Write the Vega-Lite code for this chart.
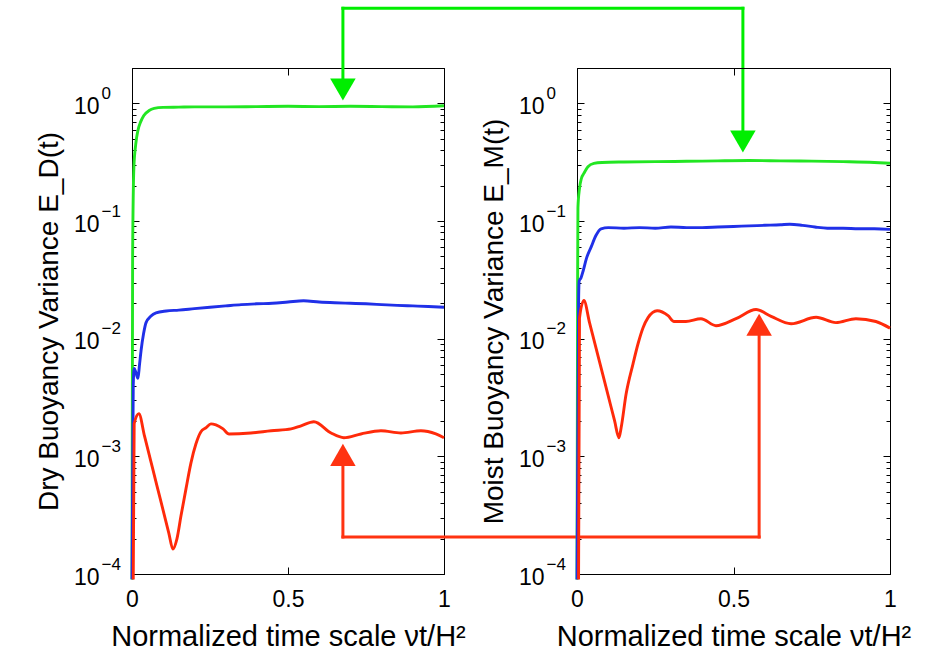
{
  "$schema": "https://vega.github.io/schema/vega-lite/v6.json",
  "padding": {"left": 34, "top": 5, "right": 5, "bottom": 3},
  "background": "white",
  "config": {
    "view": {"stroke": "#000000", "strokeWidth": 1},
    "font": "Liberation Sans",
    "axis": {
      "grid": false, "domainColor": "#000000", "domainWidth": 1, "tickColor": "#000000", "tickWidth": 1,
      "labelColor": "#000000", "titleColor": "#000000", "labelFont": "Liberation Sans", "titleFont": "Liberation Sans",
      "labelFontSize": 23, "titleFontSize": 28, "titleFontWeight": "normal", "labelOverlap": false, "labelFlush": false
    },
    "line": {"interpolate": "monotone", "strokeWidth": 2.9, "clip": true}
  },
  "datasets": {
    "curves": [
      {"panel": "dry", "run": "green", "t": 0, "v": 0.00009}, {"panel": "dry", "run": "green", "t": 0.002, "v": 0.05},
      {"panel": "dry", "run": "green", "t": 0.006, "v": 0.285}, {"panel": "dry", "run": "green", "t": 0.012, "v": 0.45},
      {"panel": "dry", "run": "green", "t": 0.019, "v": 0.59}, {"panel": "dry", "run": "green", "t": 0.028, "v": 0.7},
      {"panel": "dry", "run": "green", "t": 0.038, "v": 0.79}, {"panel": "dry", "run": "green", "t": 0.055, "v": 0.87},
      {"panel": "dry", "run": "green", "t": 0.071, "v": 0.906}, {"panel": "dry", "run": "green", "t": 0.1, "v": 0.925},
      {"panel": "dry", "run": "green", "t": 0.15, "v": 0.93}, {"panel": "dry", "run": "green", "t": 0.2, "v": 0.935},
      {"panel": "dry", "run": "green", "t": 0.3, "v": 0.935}, {"panel": "dry", "run": "green", "t": 0.4, "v": 0.94},
      {"panel": "dry", "run": "green", "t": 0.5, "v": 0.945}, {"panel": "dry", "run": "green", "t": 0.6, "v": 0.94},
      {"panel": "dry", "run": "green", "t": 0.7, "v": 0.945}, {"panel": "dry", "run": "green", "t": 0.8, "v": 0.94},
      {"panel": "dry", "run": "green", "t": 0.9, "v": 0.935}, {"panel": "dry", "run": "green", "t": 1.0, "v": 0.955},

      {"panel": "dry", "run": "blue", "t": 0, "v": 0.00009}, {"panel": "dry", "run": "blue", "t": 0.004, "v": 0.004},
      {"panel": "dry", "run": "blue", "t": 0.007, "v": 0.0056}, {"panel": "dry", "run": "blue", "t": 0.012, "v": 0.0052},
      {"panel": "dry", "run": "blue", "t": 0.019, "v": 0.0046}, {"panel": "dry", "run": "blue", "t": 0.024, "v": 0.006},
      {"panel": "dry", "run": "blue", "t": 0.029, "v": 0.0079}, {"panel": "dry", "run": "blue", "t": 0.037, "v": 0.011},
      {"panel": "dry", "run": "blue", "t": 0.045, "v": 0.0137}, {"panel": "dry", "run": "blue", "t": 0.06, "v": 0.0155},
      {"panel": "dry", "run": "blue", "t": 0.077, "v": 0.0166}, {"panel": "dry", "run": "blue", "t": 0.11, "v": 0.0172},
      {"panel": "dry", "run": "blue", "t": 0.15, "v": 0.0175}, {"panel": "dry", "run": "blue", "t": 0.2, "v": 0.018},
      {"panel": "dry", "run": "blue", "t": 0.25, "v": 0.0185}, {"panel": "dry", "run": "blue", "t": 0.3, "v": 0.019},
      {"panel": "dry", "run": "blue", "t": 0.35, "v": 0.0195}, {"panel": "dry", "run": "blue", "t": 0.4, "v": 0.0198},
      {"panel": "dry", "run": "blue", "t": 0.45, "v": 0.02}, {"panel": "dry", "run": "blue", "t": 0.5, "v": 0.0205},
      {"panel": "dry", "run": "blue", "t": 0.55, "v": 0.021}, {"panel": "dry", "run": "blue", "t": 0.6, "v": 0.0205},
      {"panel": "dry", "run": "blue", "t": 0.65, "v": 0.0202}, {"panel": "dry", "run": "blue", "t": 0.7, "v": 0.02},
      {"panel": "dry", "run": "blue", "t": 0.75, "v": 0.0198}, {"panel": "dry", "run": "blue", "t": 0.8, "v": 0.0195},
      {"panel": "dry", "run": "blue", "t": 0.85, "v": 0.0192}, {"panel": "dry", "run": "blue", "t": 0.9, "v": 0.019},
      {"panel": "dry", "run": "blue", "t": 0.95, "v": 0.0188}, {"panel": "dry", "run": "blue", "t": 1.0, "v": 0.0185},

      {"panel": "dry", "run": "red", "t": 0.004, "v": 0.00009}, {"panel": "dry", "run": "red", "t": 0.007, "v": 0.0019},
      {"panel": "dry", "run": "red", "t": 0.022, "v": 0.0023}, {"panel": "dry", "run": "red", "t": 0.04, "v": 0.00149},
      {"panel": "dry", "run": "red", "t": 0.06, "v": 0.000915}, {"panel": "dry", "run": "red", "t": 0.08, "v": 0.000562},
      {"panel": "dry", "run": "red", "t": 0.1, "v": 0.000346}, {"panel": "dry", "run": "red", "t": 0.118, "v": 0.000223},
      {"panel": "dry", "run": "red", "t": 0.131, "v": 0.000163}, {"panel": "dry", "run": "red", "t": 0.144, "v": 0.000199},
      {"panel": "dry", "run": "red", "t": 0.157, "v": 0.000312}, {"panel": "dry", "run": "red", "t": 0.173, "v": 0.000529},
      {"panel": "dry", "run": "red", "t": 0.189, "v": 0.000881}, {"panel": "dry", "run": "red", "t": 0.205, "v": 0.00128},
      {"panel": "dry", "run": "red", "t": 0.221, "v": 0.00162}, {"panel": "dry", "run": "red", "t": 0.237, "v": 0.00175},
      {"panel": "dry", "run": "red", "t": 0.253, "v": 0.00189}, {"panel": "dry", "run": "red", "t": 0.269, "v": 0.00185},
      {"panel": "dry", "run": "red", "t": 0.292, "v": 0.00171}, {"panel": "dry", "run": "red", "t": 0.311, "v": 0.00155},
      {"panel": "dry", "run": "red", "t": 0.381, "v": 0.00158}, {"panel": "dry", "run": "red", "t": 0.446, "v": 0.00165},
      {"panel": "dry", "run": "red", "t": 0.51, "v": 0.00171}, {"panel": "dry", "run": "red", "t": 0.542, "v": 0.00182},
      {"panel": "dry", "run": "red", "t": 0.583, "v": 0.00197}, {"panel": "dry", "run": "red", "t": 0.638, "v": 0.00158},
      {"panel": "dry", "run": "red", "t": 0.679, "v": 0.00144}, {"panel": "dry", "run": "red", "t": 0.734, "v": 0.00155},
      {"panel": "dry", "run": "red", "t": 0.798, "v": 0.00165}, {"panel": "dry", "run": "red", "t": 0.862, "v": 0.00158},
      {"panel": "dry", "run": "red", "t": 0.926, "v": 0.00165}, {"panel": "dry", "run": "red", "t": 0.974, "v": 0.00155},
      {"panel": "dry", "run": "red", "t": 1.0, "v": 0.00144},

      {"panel": "moist", "run": "green", "t": 0, "v": 0.00009}, {"panel": "moist", "run": "green", "t": 0.002, "v": 0.03},
      {"panel": "moist", "run": "green", "t": 0.003, "v": 0.13}, {"panel": "moist", "run": "green", "t": 0.008, "v": 0.19},
      {"panel": "moist", "run": "green", "t": 0.014, "v": 0.23}, {"panel": "moist", "run": "green", "t": 0.022, "v": 0.254},
      {"panel": "moist", "run": "green", "t": 0.035, "v": 0.29}, {"panel": "moist", "run": "green", "t": 0.054, "v": 0.309},
      {"panel": "moist", "run": "green", "t": 0.08, "v": 0.315}, {"panel": "moist", "run": "green", "t": 0.15, "v": 0.318},
      {"panel": "moist", "run": "green", "t": 0.25, "v": 0.32}, {"panel": "moist", "run": "green", "t": 0.35, "v": 0.322},
      {"panel": "moist", "run": "green", "t": 0.45, "v": 0.325}, {"panel": "moist", "run": "green", "t": 0.55, "v": 0.327},
      {"panel": "moist", "run": "green", "t": 0.65, "v": 0.325}, {"panel": "moist", "run": "green", "t": 0.75, "v": 0.323},
      {"panel": "moist", "run": "green", "t": 0.85, "v": 0.32}, {"panel": "moist", "run": "green", "t": 0.95, "v": 0.315},
      {"panel": "moist", "run": "green", "t": 1.0, "v": 0.31},

      {"panel": "moist", "run": "blue", "t": 0, "v": 0.00009}, {"panel": "moist", "run": "blue", "t": 0.005, "v": 0.02},
      {"panel": "moist", "run": "blue", "t": 0.007, "v": 0.031}, {"panel": "moist", "run": "blue", "t": 0.013, "v": 0.033},
      {"panel": "moist", "run": "blue", "t": 0.02, "v": 0.038}, {"panel": "moist", "run": "blue", "t": 0.03, "v": 0.048},
      {"panel": "moist", "run": "blue", "t": 0.045, "v": 0.06}, {"panel": "moist", "run": "blue", "t": 0.06, "v": 0.075},
      {"panel": "moist", "run": "blue", "t": 0.077, "v": 0.086}, {"panel": "moist", "run": "blue", "t": 0.1, "v": 0.088},
      {"panel": "moist", "run": "blue", "t": 0.15, "v": 0.087}, {"panel": "moist", "run": "blue", "t": 0.2, "v": 0.088},
      {"panel": "moist", "run": "blue", "t": 0.25, "v": 0.087}, {"panel": "moist", "run": "blue", "t": 0.3, "v": 0.089},
      {"panel": "moist", "run": "blue", "t": 0.35, "v": 0.088}, {"panel": "moist", "run": "blue", "t": 0.4, "v": 0.088},
      {"panel": "moist", "run": "blue", "t": 0.45, "v": 0.089}, {"panel": "moist", "run": "blue", "t": 0.5, "v": 0.09},
      {"panel": "moist", "run": "blue", "t": 0.55, "v": 0.091}, {"panel": "moist", "run": "blue", "t": 0.6, "v": 0.092},
      {"panel": "moist", "run": "blue", "t": 0.65, "v": 0.093}, {"panel": "moist", "run": "blue", "t": 0.68, "v": 0.094},
      {"panel": "moist", "run": "blue", "t": 0.72, "v": 0.092}, {"panel": "moist", "run": "blue", "t": 0.76, "v": 0.089},
      {"panel": "moist", "run": "blue", "t": 0.8, "v": 0.087}, {"panel": "moist", "run": "blue", "t": 0.85, "v": 0.087},
      {"panel": "moist", "run": "blue", "t": 0.9, "v": 0.086}, {"panel": "moist", "run": "blue", "t": 0.95, "v": 0.086},
      {"panel": "moist", "run": "blue", "t": 1.0, "v": 0.085},

      {"panel": "moist", "run": "red", "t": 0.005, "v": 0.00009}, {"panel": "moist", "run": "red", "t": 0.008, "v": 0.015},
      {"panel": "moist", "run": "red", "t": 0.022, "v": 0.0211}, {"panel": "moist", "run": "red", "t": 0.04, "v": 0.0137},
      {"panel": "moist", "run": "red", "t": 0.07, "v": 0.00667}, {"panel": "moist", "run": "red", "t": 0.1, "v": 0.00325},
      {"panel": "moist", "run": "red", "t": 0.12, "v": 0.00201}, {"panel": "moist", "run": "red", "t": 0.134, "v": 0.00144},
      {"panel": "moist", "run": "red", "t": 0.141, "v": 0.00175},
      {"panel": "moist", "run": "red", "t": 0.157, "v": 0.0034}, {"panel": "moist", "run": "red", "t": 0.179, "v": 0.00612},
      {"panel": "moist", "run": "red", "t": 0.195, "v": 0.00906}, {"panel": "moist", "run": "red", "t": 0.211, "v": 0.0124},
      {"panel": "moist", "run": "red", "t": 0.227, "v": 0.0151}, {"panel": "moist", "run": "red", "t": 0.256, "v": 0.0173},
      {"panel": "moist", "run": "red", "t": 0.291, "v": 0.0157}, {"panel": "moist", "run": "red", "t": 0.31, "v": 0.014},
      {"panel": "moist", "run": "red", "t": 0.348, "v": 0.014}, {"panel": "moist", "run": "red", "t": 0.396, "v": 0.0148},
      {"panel": "moist", "run": "red", "t": 0.444, "v": 0.0129}, {"panel": "moist", "run": "red", "t": 0.508, "v": 0.0148},
      {"panel": "moist", "run": "red", "t": 0.572, "v": 0.0177}, {"panel": "moist", "run": "red", "t": 0.62, "v": 0.0155},
      {"panel": "moist", "run": "red", "t": 0.684, "v": 0.0134}, {"panel": "moist", "run": "red", "t": 0.764, "v": 0.0152},
      {"panel": "moist", "run": "red", "t": 0.827, "v": 0.0137}, {"panel": "moist", "run": "red", "t": 0.891, "v": 0.0148},
      {"panel": "moist", "run": "red", "t": 0.955, "v": 0.014}, {"panel": "moist", "run": "red", "t": 1.0, "v": 0.0123}
    ],
    "arrowSegs": [
      {"t": 0.676, "t2": 0.676, "v": 6.436, "v2": 1.315, "c": "#00ee00"},
      {"t": 0.676, "t2": 1.958, "v": 6.436, "v2": 6.436, "c": "#00ee00"},
      {"t": 1.958, "t2": 1.958, "v": 6.436, "v2": 0.475, "c": "#00ee00"},
      {"t": 0.676, "t2": 0.676, "v": 0.0002065, "v2": 0.00103, "c": "#ff3311"},
      {"t": 0.676, "t2": 2.01, "v": 0.0002065, "v2": 0.0002065, "c": "#ff3311"},
      {"t": 2.01, "t2": 2.01, "v": 0.0002065, "v2": 0.01315, "c": "#ff3311"}
    ],
    "arrowHeads": [
      {"t": 0.676, "v": 1.315, "shape": "triangle-down", "c": "#00ee00"},
      {"t": 1.958, "v": 0.475, "shape": "triangle-down", "c": "#00ee00"},
      {"t": 0.676, "v": 0.00103, "shape": "triangle-up", "c": "#ff3311"},
      {"t": 2.01, "v": 0.01315, "shape": "triangle-up", "c": "#ff3311"}
    ]
  },
  "spacing": 133,
  "bounds": "flush",
  "hconcat": [
    {
      "width": 312,
      "height": 506,
      "layer": [
        {
          "data": {"name": "curves"},
          "transform": [{"filter": "datum.panel == 'dry'"}],
          "mark": {"type": "line"},
          "encoding": {
            "x": {"field": "t", "type": "quantitative", "scale": {"domain": [0, 1]},
              "axis": {"orient": "bottom", "values": [0, 0.5, 1], "format": "~g", "tickSize": -7, "labelPadding": 21, "title": "Normalized time scale νt/H²", "titleFontSize": 29, "titlePadding": 11}},
            "y": {"field": "v", "type": "quantitative", "scale": {"type": "log", "domain": [0.0001, 2]},
              "axis": {"orient": "left", "values": [0.0001, 0.001, 0.01, 0.1, 1], "labelExpr": "'10'", "ticks": false,
                "labelPadding": 33, "labelOffset": 3, "title": "Dry Buoyancy Variance E_D(t)", "titlePadding": 10}},
            "color": {"field": "run", "type": "nominal", "scale": {"domain": ["green", "blue", "red"], "range": ["#22e622", "#2030e8", "#ff2a0a"]}, "legend": null}
          }
        },
        {
          "data": {"name": "curves"},
          "transform": [{"filter": "datum.panel == 'dry'"}],
          "mark": {"type": "point", "opacity": 0},
          "encoding": {
            "x": {"field": "t", "type": "quantitative", "scale": {"domain": [0, 1]},
              "axis": {"orient": "top", "values": [0, 0.5, 1], "labels": false, "tickSize": -7, "title": null}},
            "y": {"field": "v", "type": "quantitative", "scale": {"type": "log", "domain": [0.0001, 2]},
              "axis": {"orient": "right", "labels": false, "title": null,
                "values": [0.0001, 0.0002, 0.0003, 0.0004, 0.0005, 0.0006, 0.0007, 0.0008, 0.0009, 0.001, 0.002, 0.003, 0.004, 0.005, 0.006, 0.007, 0.008, 0.009, 0.01, 0.02, 0.03, 0.04, 0.05, 0.06, 0.07, 0.08, 0.09, 0.1, 0.2, 0.3, 0.4, 0.5, 0.6, 0.7, 0.8, 0.9, 1],
                "tickSize": {"condition": {"test": "abs(log(datum.value)/LN10 - round(log(datum.value)/LN10)) < 0.001", "value": -7}, "value": -4}}}
          }
        },
        {
          "data": {"name": "curves"},
          "transform": [{"filter": "datum.panel == 'dry'"}],
          "mark": {"type": "point", "opacity": 0},
          "encoding": {
            "x": {"field": "t", "type": "quantitative", "scale": {"domain": [0, 1]}, "axis": null},
            "y": {"field": "v", "type": "quantitative", "scale": {"type": "log", "domain": [0.0001, 2]},
              "axis": {"orient": "left", "title": null, "domain": false,
                "values": [0.0001, 0.0002, 0.0003, 0.0004, 0.0005, 0.0006, 0.0007, 0.0008, 0.0009, 0.001, 0.002, 0.003, 0.004, 0.005, 0.006, 0.007, 0.008, 0.009, 0.01, 0.02, 0.03, 0.04, 0.05, 0.06, 0.07, 0.08, 0.09, 0.1, 0.2, 0.3, 0.4, 0.5, 0.6, 0.7, 0.8, 0.9, 1],
                "labelExpr": "abs(log(datum.value)/LN10 - round(log(datum.value)/LN10)) < 0.001 ? ['0','−1','−2','−3','−4'][-round(log(datum.value)/LN10)] : ''",
                "labelFontSize": 17, "labelAlign": "left", "labelPadding": 38, "labelOffset": -10,
                "tickSize": {"condition": {"test": "abs(log(datum.value)/LN10 - round(log(datum.value)/LN10)) < 0.001", "value": -7}, "value": -4}}}
          }
        },
        {
          "data": {"name": "arrowSegs"},
          "mark": {"type": "rule", "clip": false, "strokeWidth": 3, "strokeCap": "square"},
          "encoding": {
            "x": {"field": "t", "type": "quantitative", "scale": {"domain": [0, 1]}, "axis": null},
            "x2": {"field": "t2"},
            "y": {"field": "v", "type": "quantitative", "scale": {"type": "log", "domain": [0.0001, 2]}, "axis": null},
            "y2": {"field": "v2"},
            "color": {"field": "c", "type": "nominal", "scale": null}
          }
        },
        {
          "data": {"name": "arrowHeads"},
          "mark": {"type": "point", "clip": false, "filled": true, "opacity": 1, "size": 650},
          "encoding": {
            "x": {"field": "t", "type": "quantitative", "scale": {"domain": [0, 1]}, "axis": null},
            "y": {"field": "v", "type": "quantitative", "scale": {"type": "log", "domain": [0.0001, 2]}, "axis": null},
            "shape": {"field": "shape", "type": "nominal", "scale": null},
            "color": {"field": "c", "type": "nominal", "scale": null}
          }
        }
      ],
      "resolve": {"axis": {"x": "independent", "y": "independent"}}
    },
    {
      "width": 313,
      "height": 506,
      "layer": [
        {
          "data": {"name": "curves"},
          "transform": [{"filter": "datum.panel == 'moist'"}],
          "mark": {"type": "line"},
          "encoding": {
            "x": {"field": "t", "type": "quantitative", "scale": {"domain": [0, 1]},
              "axis": {"orient": "bottom", "values": [0, 0.5, 1], "format": "~g", "tickSize": -7, "labelPadding": 21, "title": "Normalized time scale νt/H²", "titleFontSize": 29, "titlePadding": 11}},
            "y": {"field": "v", "type": "quantitative", "scale": {"type": "log", "domain": [0.0001, 2]},
              "axis": {"orient": "left", "values": [0.0001, 0.001, 0.01, 0.1, 1], "labelExpr": "'10'", "ticks": false,
                "labelPadding": 33, "labelOffset": 3, "title": "Moist Buoyancy Variance E_M(t)", "titlePadding": 10}},
            "color": {"field": "run", "type": "nominal", "scale": {"domain": ["green", "blue", "red"], "range": ["#22e622", "#2030e8", "#ff2a0a"]}, "legend": null}
          }
        },
        {
          "data": {"name": "curves"},
          "transform": [{"filter": "datum.panel == 'moist'"}],
          "mark": {"type": "point", "opacity": 0},
          "encoding": {
            "x": {"field": "t", "type": "quantitative", "scale": {"domain": [0, 1]},
              "axis": {"orient": "top", "values": [0, 0.5, 1], "labels": false, "tickSize": -7, "title": null}},
            "y": {"field": "v", "type": "quantitative", "scale": {"type": "log", "domain": [0.0001, 2]},
              "axis": {"orient": "right", "labels": false, "title": null,
                "values": [0.0001, 0.0002, 0.0003, 0.0004, 0.0005, 0.0006, 0.0007, 0.0008, 0.0009, 0.001, 0.002, 0.003, 0.004, 0.005, 0.006, 0.007, 0.008, 0.009, 0.01, 0.02, 0.03, 0.04, 0.05, 0.06, 0.07, 0.08, 0.09, 0.1, 0.2, 0.3, 0.4, 0.5, 0.6, 0.7, 0.8, 0.9, 1],
                "tickSize": {"condition": {"test": "abs(log(datum.value)/LN10 - round(log(datum.value)/LN10)) < 0.001", "value": -7}, "value": -4}}}
          }
        },
        {
          "data": {"name": "curves"},
          "transform": [{"filter": "datum.panel == 'moist'"}],
          "mark": {"type": "point", "opacity": 0},
          "encoding": {
            "x": {"field": "t", "type": "quantitative", "scale": {"domain": [0, 1]}, "axis": null},
            "y": {"field": "v", "type": "quantitative", "scale": {"type": "log", "domain": [0.0001, 2]},
              "axis": {"orient": "left", "title": null, "domain": false,
                "values": [0.0001, 0.0002, 0.0003, 0.0004, 0.0005, 0.0006, 0.0007, 0.0008, 0.0009, 0.001, 0.002, 0.003, 0.004, 0.005, 0.006, 0.007, 0.008, 0.009, 0.01, 0.02, 0.03, 0.04, 0.05, 0.06, 0.07, 0.08, 0.09, 0.1, 0.2, 0.3, 0.4, 0.5, 0.6, 0.7, 0.8, 0.9, 1],
                "labelExpr": "abs(log(datum.value)/LN10 - round(log(datum.value)/LN10)) < 0.001 ? ['0','−1','−2','−3','−4'][-round(log(datum.value)/LN10)] : ''",
                "labelFontSize": 17, "labelAlign": "left", "labelPadding": 38, "labelOffset": -10,
                "tickSize": {"condition": {"test": "abs(log(datum.value)/LN10 - round(log(datum.value)/LN10)) < 0.001", "value": -7}, "value": -4}}}
          }
        }
      ],
      "resolve": {"axis": {"x": "independent", "y": "independent"}}
    }
  ]
}
